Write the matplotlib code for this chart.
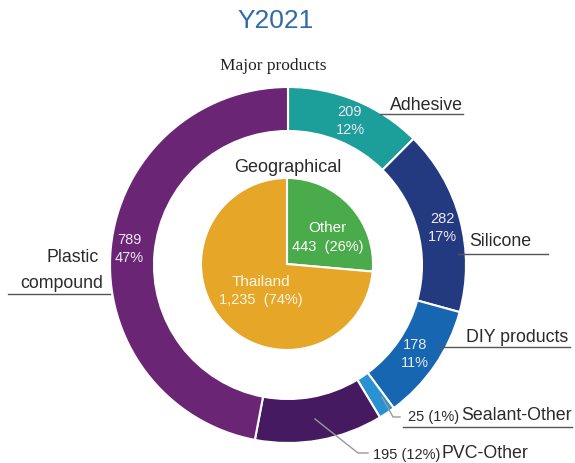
import matplotlib
matplotlib.use("Agg")
import matplotlib.pyplot as plt

plt.rcParams['font.family'] = ['Liberation Sans', 'DejaVu Sans']

# outer ring: major products (clockwise from 12 o'clock)
products = ['Adhesive', 'Silicone', 'DIY products', 'Sealant-Other', 'PVC-Other', 'Plastic compound']
product_vals = [209, 282, 178, 25, 195, 789]
product_pct = [12, 17, 11, 1, 12, 47]
product_colors = ['#1c9e9b', '#233a80', '#1766b2', '#2a92d2', '#461a60', '#6a2674']

# inner pie: geographical
regions = ['Other', 'Thailand']
region_vals = [443, 1235]
region_pct = [26, 74]
region_colors = ['#4aab4a', '#e6a628']

W, H = 575, 463


def Y(y):
    return H - y


fig = plt.figure(figsize=(5.75, 4.63), dpi=100)
ax = fig.add_axes([0, 0, 1, 1])

cx, cy = 288, Y(265)
ax.pie(product_vals, radius=178, center=(cx, cy), startangle=90, counterclock=False,
       colors=product_colors,
       wedgeprops=dict(width=44, edgecolor='white', linewidth=1.5))
ax.pie(region_vals, radius=86, center=(cx - 1, cy + 1), startangle=90, counterclock=False,
       colors=region_colors,
       wedgeprops=dict(edgecolor='white', linewidth=1.5))

ax.set_xlim(0, W)
ax.set_ylim(0, H)
ax.set_aspect('equal')
ax.axis('off')

dark = '#2a2a2a'
ax.text(276, Y(21), 'Y2021', ha='center', va='center', fontsize=19, color='#2f6ca6')
ax.text(273, Y(66), 'Major products', ha='center', va='center', fontsize=12.5,
        color='#222222', family=['Liberation Serif', 'DejaVu Serif'])
ax.text(288, Y(167), 'Geographical', ha='center', va='center', fontsize=13, color=dark)

# pie labels
ax.text(327, Y(228), regions[0], ha='center', va='center', fontsize=11, color='white')
ax.text(328, Y(247), f'{region_vals[0]:,}  ({region_pct[0]}%)', ha='center', va='center',
        fontsize=10.5, color='white')
ax.text(261, Y(282), regions[1], ha='center', va='center', fontsize=11, color='#fff6e6')
ax.text(261, Y(300), f'{region_vals[1]:,}  ({region_pct[1]}%)', ha='center', va='center',
        fontsize=10.5, color='#fff6e6')

# values inside the ring
ring_txt = [(0, 350, 112), (1, 442, 219), (2, 415, 345), (5, 129, 240)]
for i, x, y in ring_txt:
    ax.text(x, Y(y), f'{product_vals[i]}', ha='center', va='center', fontsize=10.5, color='#eee8f2')
    ax.text(x, Y(y + 18), f'{product_pct[i]}%', ha='center', va='center', fontsize=10.5, color='#eee8f2')

lab = dict(fontsize=12.8, color=dark, va='center')
small = dict(fontsize=10.5, color=dark, va='center')
ul = dict(color='#555555', lw=1)

ax.text(463, Y(105), products[0], ha='right', **lab)
ax.plot([380, 463], [Y(114), Y(114)], **ul)

ax.text(469, Y(242), products[1], ha='left', **lab)
ax.plot([458, 548], [Y(254), Y(254)], **ul)

ax.text(568, Y(337), products[2], ha='right', **lab)
ax.plot([437, 570], [Y(347), Y(347)], **ul)

ax.text(408, Y(417), f'{product_vals[3]} ({product_pct[3]}%)', ha='left', **small)
ax.text(572, Y(416), products[3], ha='right', **lab)
ax.plot([403, 572], [Y(427), Y(427)], **ul)
ax.plot([382, 393, 400], [Y(397), Y(417), Y(417)], color='#999999', lw=1)

ax.text(373, Y(455), f'{product_vals[4]} ({product_pct[4]}%)', ha='left', **small)
ax.text(528, Y(454), products[4], ha='right', **lab)
ax.plot([315, 358, 368], [Y(419), Y(453), Y(453)], color='#999999', lw=1)

ax.text(99, Y(257), 'Plastic', ha='right', **lab)
ax.text(103, Y(283), 'compound', ha='right', **lab)
ax.plot([8, 110], [Y(294), Y(294)], **ul)

fig.savefig('out.png', dpi=100)
